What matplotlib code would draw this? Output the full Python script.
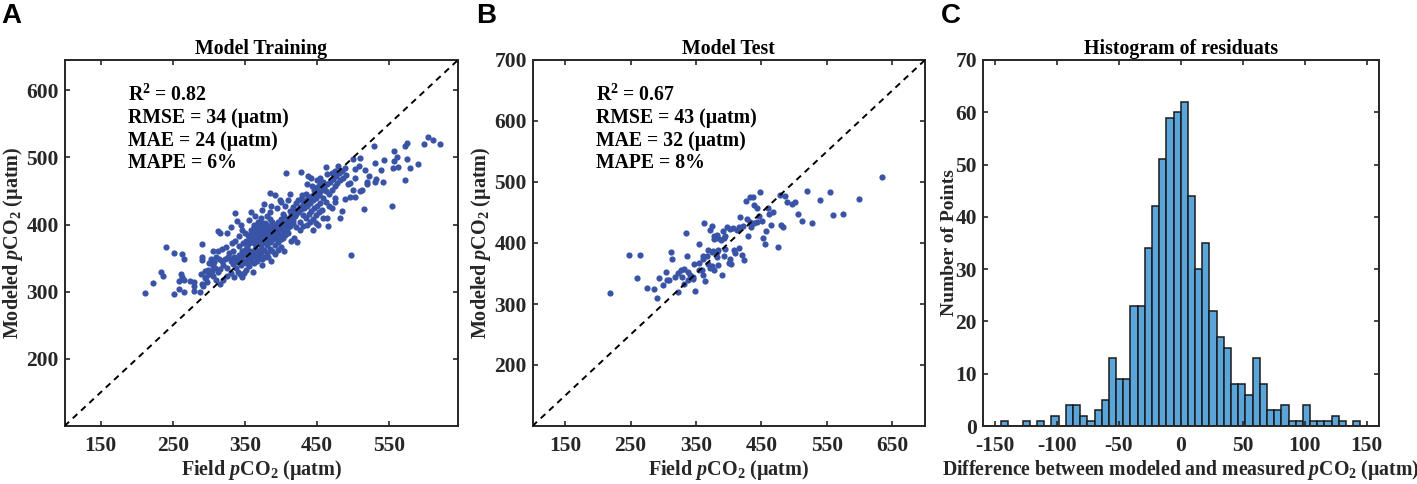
import matplotlib
matplotlib.use('Agg')
import matplotlib.pyplot as plt

plt.rcParams['font.family'] = 'Liberation Serif'
plt.rcParams['font.weight'] = 'bold'
plt.rcParams['axes.labelweight'] = 'bold'
plt.rcParams['axes.unicode_minus'] = False
plt.rcParams['mathtext.fontset'] = 'custom'
plt.rcParams['mathtext.rm'] = 'Liberation Serif:bold'
plt.rcParams['mathtext.it'] = 'Liberation Serif:italic:bold'
plt.rcParams['mathtext.bf'] = 'Liberation Serif:bold'

# (field, modeled) pairs
train_points = [
    (211,298),(222,313),(234,330),(236,323),(240,366),(252,357),(263,356),(266,349),(251,297),(258,304),
    (265,299),(261,326),(263,322),(259,316),(266,318),(274,316),(280,315),(280,309),(279,301),(287,299),
    (290,311),(292,309),(289,327),(295,331),(299,333),(305,338),(307,344),(291,351),(291,347),(290,371),
    (305,360),(312,360),(318,363),(313,391),(316,388),(325,388),(339,405),(336,417),(358,419),(356,407),
    (373,421),(376,430),(384,447),(391,444),(386,427),(399,437),(400,433),(413,445),(407,477),(427,478),
    (437,473),(442,470),(443,458),(436,460),(435,446),(429,444),(462,486),(463,475),(479,487),(499,498),
    (509,499),(508,487),(502,483),(516,481),(522,473),(530,492),(529,517),(543,496),(539,481),(555,484),
    (556,509),(560,500),(557,494),(562,485),(574,497),(578,484),(590,490),(572,467),(571,517),(574,522),
    (598,520),(603,530),(611,526),(620,520),(553,427),(497,355),(515,423),(541,464),(532,468),(530,464),
    (519,464),(519,460),(512,451),(509,450),(502,469),(499,452),(495,441),(502,441),(488,438),(485,420),
    (481,409),(475,440),(475,433),(463,410),(465,398),(458,410),(451,400),(448,402),(361,329),(382,352),
    (366,346),(300,326),(304,331),(308,336),(296,322),(312,330),(316,334),(320,340),(318,345),(322,349),
    (326,352),(330,345),(333,341),(337,336),(340,330),(343,326),(346,322),(349,328),(352,333),(338,350),
    (342,355),(346,360),(350,356),(354,350),(358,346),(362,342),(366,350),(370,353),(374,348),(378,352),
    (386,345),(334,361),(328,358),(323,366),(332,372),(336,376),(341,368),(347,372),(353,366),(357,361),
    (361,358),(364,364),(368,360),(372,366),(376,362),(380,358),(384,364),(388,360),(392,356),(396,362),
    (400,366),(404,360),(357,378),(359,384),(361,390),(363,396),(365,380),(367,386),(369,392),(371,398),
    (373,376),(375,382),(377,388),(379,394),(360,374),(364,371),(368,374),(372,371),(376,374),(380,378),
    (382,384),(384,390),(386,396),(362,381),(366,393),(370,383),(374,395),(378,380),(381,370),(385,374),
    (389,378),(393,382),(390,388),(394,392),(398,396),(402,400),(406,404),(410,408),(392,400),(396,404),
    (400,408),(404,412),(408,394),(412,398),(416,402),(388,404),(384,408),(380,412),(398,386),(402,380),
    (406,384),(410,388),(414,376),(418,380),(422,374),(392,370),(396,374),(400,378),(414,414),(418,418),
    (422,422),(426,426),(430,430),(434,434),(438,438),(412,420),(416,426),(420,432),(424,436),(428,438),
    (432,424),(436,428),(440,432),(444,436),(448,440),(452,444),(430,414),(434,410),(438,416),(442,420),
    (446,424),(450,428),(454,432),(426,404),(430,398),(436,400),(440,404),(444,408),(448,414),(452,418),
    (456,422),(426,392),(420,396),(444,392),(456,452),(460,456),(464,460),(468,464),(472,468),(476,472),
    (480,476),(450,466),(454,470),(458,464),(462,450),(466,446),(470,452),(474,458),(478,462),(482,466),
    (486,470),(490,474),(470,476),(474,480),(484,480),(488,484),(458,440),(462,434),(466,428),(470,424),
    (492,460),(496,462),(446,452),(450,456),(454,460),(368,404),(372,409),(364,412),(378,403),(350,388),
    (346,392),(342,383),(352,376),(330,396),(345,400),(385,418),(395,424),(405,428),(410,436),(402,416),
    (310,352),(314,348),(300,342),(303,349),(295,320),(298,315),(305,323),(310,318),(315,312),(320,318),
    (325,324),(330,328),(335,322),(325,336),(340,344),(344,340),(348,346),(352,342),(356,338),(374,340),
    # dense core
    (358,375),(360,379),(362,376),(364,383),(366,377),(368,381),(370,376),(372,380),(374,385),(376,379),
    (359,388),(361,385),(363,389),(365,391),(367,395),(369,387),(371,389),(373,392),(375,396),(377,391),
    (355,372),(353,370),(356,381),(354,385),(358,392),(362,399),(368,399),(372,402),(376,400),(380,399),
    (379,385),(381,389),(383,380),(385,384),(387,388),(389,392),(391,385),(393,389),(395,395),(397,391),
    (399,399),(401,394),(403,390),(405,397),(407,401),(409,398),(411,403),(413,407),(415,410),(417,407),
    (419,412),(421,416),(423,418),(425,421),(427,423),(429,426),(431,428),(433,431),(435,436),(437,433),
    (439,441),(441,438),(443,442),(445,445),(447,443),(449,447),(451,449),(453,446),(350,362),(348,354),
    (344,349),(339,346),(335,352),(331,349),(352,358),(356,354),(360,352),(364,355),(368,356),(372,358),
]
test_points = [
    (219,318),(247,380),(265,380),(260,342),(275,327),(286,325),(291,310),(299,331),(293,343),(304,353),
    (306,340),(309,339),(312,385),(314,373),(336,378),(334,417),(318,345),(323,351),(327,355),(331,357),
    (338,352),(328,345),(340,347),(345,341),(337,340),(332,333),(322,319),(348,322),(364,337),(347,365),
    (354,368),(355,399),(360,379),(361,373),(366,378),(368,389),(376,387),(382,386),(384,389),(395,390),
    (392,378),(382,377),(374,386),(362,432),(374,428),(372,422),(377,412),(378,407),(382,413),(384,408),
    (388,405),(392,408),(395,411),(391,419),(398,426),(402,423),(407,425),(413,422),(416,426),(422,428),
    (417,442),(428,439),(433,434),(434,426),(429,411),(416,392),(408,388),(410,383),(420,381),(424,372),
    (402,373),(400,368),(403,366),(389,347),(383,364),(374,363),(369,365),(372,359),(377,355),(361,348),
    (359,355),(354,355),(346,345),(426,469),(433,475),(437,476),(448,483),(439,463),(443,458),(460,458),
    (446,445),(451,436),(443,434),(439,432),(462,448),(468,450),(464,430),(457,419),(453,409),(455,398),
    (475,393),(480,430),(483,427),(479,478),(486,477),(489,467),(497,464),(502,468),(506,448),(512,436),
    (528,433),(520,486),(540,470),(555,483),(560,446),(574,447),(599,472),(635,509),
]
# histogram counts, one per bin, starting at the first bin below
residual_counts = [
    1, 0, 0, 1, 0, 1, 0, 2, 0, 4, 4, 2, 1, 3, 5, 13, 9, 9, 23, 23, 34, 42, 51, 59, 60,
    62, 44, 30, 35, 22, 17, 15, 8, 8, 6, 13, 8, 3, 3, 4, 1, 1, 4, 1, 1, 1, 2, 1, 0, 1,
]
bin_width = 5.8
first_bin = -25 * bin_width

train_ticks_x = [150, 250, 350, 450, 550]
train_ticks_y = [200, 300, 400, 500, 600]
test_ticks_x = [150, 250, 350, 450, 550, 650]
test_ticks_y = [200, 300, 400, 500, 600, 700]
hist_ticks_x = [-150, -100, -50, 0, 50, 100, 150]
hist_ticks_y = [0, 10, 20, 30, 40, 50, 60, 70]

W, H = 1417, 484
BLUE = '#3953a6'
INK = '#262626'
LABEL = 'Modeled $\\mathit{p}$CO$_{2}$ (µatm)'
XLABEL = 'Field $\\mathit{p}$CO$_{2}$ (µatm)'


def make_axes(fig, left, right, top=60, bottom=426):
    ax = fig.add_axes([left / W, 1 - bottom / H, (right - left) / W, (bottom - top) / H])
    for s in ax.spines.values():
        s.set_linewidth(1.4)
        s.set_color(INK)
    ax.tick_params(direction='in', top=True, right=True, length=3.5, width=1.2,
                   labelsize=15.5, color=INK, labelcolor=INK)
    ax.tick_params(axis='x', pad=7)
    ax.tick_params(axis='y', pad=4)
    return ax


def scatter_panel(ax, points, lim, ticks_x, ticks_y, title, stats):
    field = [p[0] for p in points]
    modeled = [p[1] for p in points]
    ax.scatter(field, modeled, s=20, color=BLUE, linewidths=0, zorder=2)
    ax.plot(lim, lim, '--', color='black', lw=1.4, dashes=(3.2, 2.6), zorder=3)
    ax.set_xlim(lim)
    ax.set_ylim(lim)
    ax.set_xticks(ticks_x)
    ax.set_yticks(ticks_y)
    ax.set_title(title, fontsize=14.3, fontweight='bold', pad=4)
    ax.set_xlabel(XLABEL, fontsize=14.5, labelpad=2, color=INK)
    ax.set_ylabel(LABEL, fontsize=14.5, labelpad=1, color=INK)
    for i, line in enumerate(stats):
        ax.text(0.161, 0.905 - i * 0.0625, line, transform=ax.transAxes, fontsize=14.2,
                va='center', ha='left')


fig = plt.figure(figsize=(W / 100, H / 100), dpi=100)

ax1 = make_axes(fig, 64.5, 458)
scatter_panel(ax1, train_points, (100, 645), train_ticks_x, train_ticks_y, 'Model Training',
              ['R$^{2}$ = 0.82', 'RMSE = 34 (µatm)', 'MAE = 24 (µatm)', 'MAPE = 6%'])

ax2 = make_axes(fig, 532.5, 925)
scatter_panel(ax2, test_points, (100, 700), test_ticks_x, test_ticks_y, 'Model Test',
              ['R$^{2}$ = 0.67', 'RMSE = 43 (µatm)', 'MAE = 32 (µatm)', 'MAPE = 8%'])

ax3 = make_axes(fig, 982.5, 1379)
lefts = [first_bin + i * bin_width for i in range(len(residual_counts))]
ax3.bar(lefts, residual_counts, width=bin_width, align='edge', color='#5aa5da',
        edgecolor='#1a1a1a', linewidth=1.1)
ax3.set_xlim(-160, 160)
ax3.set_ylim(0, 70)
ax3.set_xticks(hist_ticks_x)
ax3.set_yticks(hist_ticks_y)
ax3.set_title('Histogram of residuats', fontsize=14.3, fontweight='bold', pad=4)
ax3.set_xlabel('Difference between modeled and measured $\\mathit{p}$CO$_{2}$ (µatm)',
               fontsize=14.2, labelpad=2, color=INK)
ax3.set_ylabel('Number of Points', fontsize=14, labelpad=-2, color=INK)

for letter, x in zip('ABC', [1, 476, 941]):
    fig.text(x / W, 1 - 16 / H, letter, fontsize=20, fontweight='bold',
             family='Liberation Sans', va='center', ha='left')

fig.savefig('out.png', dpi=100)
